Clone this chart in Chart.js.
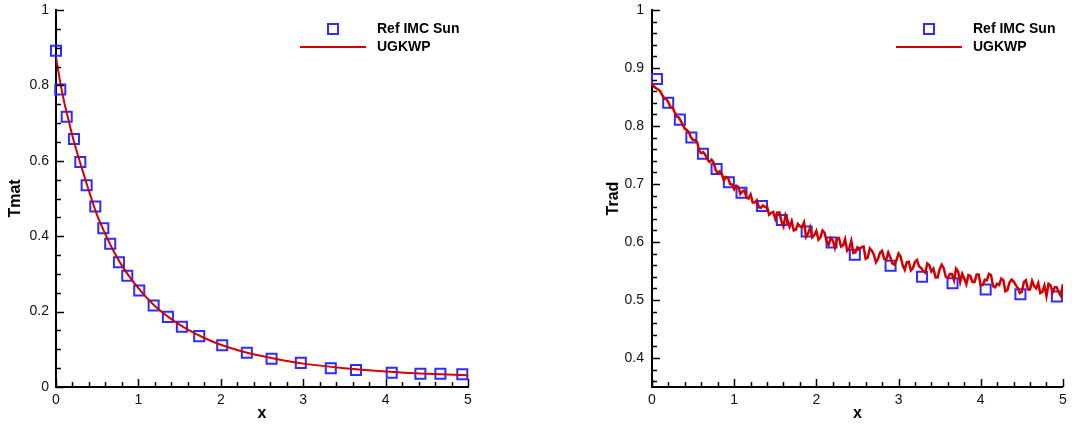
<!DOCTYPE html>
<html>
<head>
<meta charset="utf-8">
<script src="https://cdn.jsdelivr.net/npm/chart.js@4.4.1/dist/chart.umd.min.js"></script>
<style>
body { margin: 0; background: #fff; }
#wrap { position: relative; width: 1072px; height: 428px; }
canvas { position: absolute; top: 0; }
#left { left: 0; }
#right { left: 536px; }
</style>
</head>
<body>
<div id="wrap">
  <canvas id="left" width="536" height="428"></canvas>
  <canvas id="right" width="536" height="428"></canvas>
</div>
<script>
var seriesNames = ["Ref IMC Sun", "UGKWP"];

// left panel: Tmat
var refTmatX = [0, 0.052, 0.13, 0.218, 0.295, 0.372, 0.477, 0.574, 0.658, 0.764, 0.865, 1.01, 1.185, 1.358,
                1.528, 1.738, 2.017, 2.316, 2.616, 2.971, 3.335, 3.641, 4.074, 4.422, 4.665, 4.931];
var refTmatY = [0.892, 0.789, 0.717, 0.658, 0.597, 0.535, 0.479, 0.421, 0.380, 0.331, 0.295, 0.256, 0.216, 0.186,
                0.160, 0.135, 0.111, 0.091, 0.075, 0.064, 0.050, 0.045, 0.038, 0.035, 0.035, 0.034];
var ugkTmatX = [0, 0.05, 0.1, 0.15, 0.2, 0.3, 0.4, 0.5, 0.6, 0.7, 0.8, 0.9, 1.0, 1.1, 1.2, 1.4, 1.6, 1.8,
                2.0, 2.25, 2.5, 2.75, 3.0, 3.5, 4.0, 4.5, 5.0];
var ugkTmatY = [0.875, 0.81, 0.755, 0.71, 0.665, 0.59, 0.52, 0.455, 0.405, 0.36, 0.322, 0.29, 0.262, 0.237, 0.215, 0.18, 0.152, 0.13,
                0.112, 0.095, 0.082, 0.071, 0.062, 0.05, 0.041, 0.035, 0.031];

// right panel: Trad
var refTradX = [0.06, 0.197, 0.339, 0.479, 0.62, 0.786, 0.935, 1.089, 1.338, 1.58, 1.882, 2.185, 2.468, 2.903,
                3.286, 3.657, 4.06, 4.483, 4.927];
var refTradY = [0.881, 0.840, 0.811, 0.780, 0.752, 0.726, 0.703, 0.685, 0.662, 0.638, 0.618, 0.599, 0.578, 0.559,
                0.540, 0.529, 0.518, 0.510, 0.506];
var ugkTradX = [0,0.025,0.05,0.075,0.1,0.125,0.15,0.175,0.2,0.225,0.25,0.275,0.3,0.325,0.35,0.375,0.4,0.425,0.45,0.475,
                0.5,0.525,0.55,0.575,0.6,0.625,0.65,0.675,0.7,0.725,0.75,0.775,0.8,0.825,0.85,0.875,0.9,0.925,0.95,0.975,
                1,1.025,1.05,1.075,1.1,1.125,1.15,1.175,1.2,1.225,1.25,1.275,1.3,1.325,1.35,1.375,1.4,1.425,1.45,1.475,
                1.5,1.525,1.55,1.575,1.6,1.625,1.65,1.675,1.7,1.725,1.75,1.775,1.8,1.825,1.85,1.875,1.9,1.925,1.95,1.975,
                2,2.025,2.05,2.075,2.1,2.125,2.15,2.175,2.2,2.225,2.25,2.275,2.3,2.325,2.35,2.375,2.4,2.425,2.45,2.475,
                2.5,2.525,2.55,2.575,2.6,2.625,2.65,2.675,2.7,2.725,2.75,2.775,2.8,2.825,2.85,2.875,2.9,2.925,2.95,2.975,
                3,3.025,3.05,3.075,3.1,3.125,3.15,3.175,3.2,3.225,3.25,3.275,3.3,3.325,3.35,3.375,3.4,3.425,3.45,3.475,
                3.5,3.525,3.55,3.575,3.6,3.625,3.65,3.675,3.7,3.725,3.75,3.775,3.8,3.825,3.85,3.875,3.9,3.925,3.95,3.975,
                4,4.025,4.05,4.075,4.1,4.125,4.15,4.175,4.2,4.225,4.25,4.275,4.3,4.325,4.35,4.375,4.4,4.425,4.45,4.475,
                4.5,4.525,4.55,4.575,4.6,4.625,4.65,4.675,4.7,4.725,4.75,4.775,4.8,4.825,4.85,4.875,4.9,4.925,4.95,4.975,
                5];
var ugkTradY = [0.874,0.868,0.865,0.863,0.860,0.853,0.847,0.846,0.841,0.832,0.832,0.824,0.816,0.815,0.809,0.802,0.795,0.793,0.789,0.780,
                0.776,0.776,0.772,0.757,0.753,0.755,0.750,0.742,0.738,0.742,0.737,0.724,0.719,0.722,0.717,0.706,0.712,0.711,0.700,0.699,
                0.691,0.697,0.695,0.683,0.687,0.689,0.677,0.675,0.682,0.668,0.668,0.672,0.660,0.659,0.663,0.660,0.661,0.647,0.650,0.652,
                0.640,0.651,0.651,0.636,0.627,0.646,0.637,0.626,0.636,0.620,0.621,0.631,0.627,0.626,0.634,0.609,0.615,0.625,0.608,0.612,
                0.619,0.604,0.608,0.620,0.616,0.601,0.595,0.607,0.603,0.590,0.606,0.607,0.592,0.594,0.605,0.585,0.589,0.602,0.581,0.582,
                0.591,0.588,0.591,0.592,0.571,0.573,0.589,0.585,0.578,0.565,0.571,0.582,0.585,0.571,0.569,0.582,0.574,0.563,0.561,0.569,
                0.580,0.575,0.560,0.552,0.565,0.566,0.551,0.555,0.566,0.569,0.558,0.555,0.550,0.547,0.563,0.560,0.549,0.554,0.539,0.539,
                0.553,0.561,0.555,0.540,0.538,0.545,0.545,0.534,0.554,0.549,0.531,0.545,0.537,0.527,0.543,0.541,0.531,0.531,0.544,0.544,
                0.525,0.526,0.535,0.534,0.545,0.543,0.524,0.522,0.528,0.526,0.537,0.534,0.515,0.517,0.530,0.535,0.532,0.526,0.521,0.512,
                0.514,0.531,0.534,0.518,0.518,0.533,0.524,0.520,0.529,0.512,0.514,0.525,0.507,0.528,0.525,0.513,0.522,0.522,0.513,0.507,
                0.527];

// tick labels
var xTicks = [0, 1, 2, 3, 4, 5];
var tmatTicks = [0, 0.2, 0.4, 0.6, 0.8, 1];
var tradTicks = [0.4, 0.5, 0.6, 0.7, 0.8, 0.9, 1];

var FONT = '"Liberation Sans", Arial, Helvetica, sans-serif';
var BLUE = "rgb(45,45,255)";
var RED = "rgb(212,0,0)";
Chart.defaults.font.family = FONT;
Chart.defaults.color = "#000";

function pts(xs, ys) {
  return xs.map(function (x, i) { return { x: x, y: ys[i] }; });
}

// keep the plot box where we put it (no extra room for edge labels)
function noPad(s) {
  s.paddingTop = 0; s.paddingBottom = 0; s.paddingLeft = 0; s.paddingRight = 0;
}

// tecplot style ticks pointing into the plot
var inwardTicks = {
  id: "inwardTicks",
  afterDatasetsDraw: function (chart, args, opts) {
    var ctx = chart.ctx, ca = chart.chartArea;
    var xs = chart.scales.x, ys = chart.scales.y;
    ctx.save();
    ctx.strokeStyle = "#000";
    ctx.lineWidth = 1.5;
    function isMajor(v, list) {
      return list.some(function (m) { return Math.abs(m - v) < 1e-6; });
    }
    var i, v, p, len;
    for (i = Math.ceil(xs.min / opts.xMinor - 1e-6); i * opts.xMinor <= xs.max + 1e-6; i++) {
      v = i * opts.xMinor;
      p = Math.round(xs.getPixelForValue(v)) + 0.5;
      len = isMajor(v, opts.xMajor) ? 8 : 5;
      ctx.beginPath(); ctx.moveTo(p, ca.bottom); ctx.lineTo(p, ca.bottom - len); ctx.stroke();
    }
    for (i = Math.ceil(ys.min / opts.yMinor - 1e-6); i * opts.yMinor <= ys.max + 1e-6; i++) {
      v = i * opts.yMinor;
      p = Math.round(ys.getPixelForValue(v)) + 0.5;
      len = isMajor(v, opts.yMajor) ? 8 : 5;
      ctx.beginPath(); ctx.moveTo(ca.left, p); ctx.lineTo(ca.left + len, p); ctx.stroke();
    }
    ctx.restore();
  }
};

var legendBox = {
  id: "legendBox",
  afterDraw: function (chart) {
    var ctx = chart.ctx, ca = chart.chartArea;
    var sq = chart.data.datasets[0], ln = chart.data.datasets[1];
    var y1 = ca.top + 19, y2 = ca.top + 37;
    ctx.save();
    ctx.lineWidth = 2;
    ctx.strokeStyle = sq.borderColor;
    ctx.strokeRect(ca.left + 277 - 5, y1 - 5, 10, 10);
    ctx.strokeStyle = ln.borderColor;
    ctx.beginPath(); ctx.moveTo(ca.left + 244, y2); ctx.lineTo(ca.left + 310, y2); ctx.stroke();
    ctx.fillStyle = "#000";
    ctx.font = "bold 14px " + FONT;
    ctx.textAlign = "left";
    ctx.textBaseline = "middle";
    ctx.fillText(sq.label, ca.left + 321, y1);
    ctx.fillText(ln.label, ca.left + 321, y2);
    ctx.restore();
  }
};

function makeChart(id, o) {
  return new Chart(document.getElementById(id).getContext("2d"), {
    type: "scatter",
    data: {
      datasets: [
        { label: seriesNames[0], data: pts(o.refX, o.refY), order: 2, clip: false,
          pointStyle: "rect", pointRadius: 7.1, pointHoverRadius: 7.1, borderWidth: 2,
          borderColor: BLUE, backgroundColor: "rgba(0,0,0,0)" },
        { label: seriesNames[1], data: pts(o.lineX, o.lineY), order: 1, showLine: true,
          pointRadius: 0, borderWidth: o.lineWidth, borderColor: RED, backgroundColor: RED,
          tension: o.tension, cubicInterpolationMode: o.tension ? "monotone" : "default" }
      ]
    },
    options: {
      responsive: false,
      animation: false,
      devicePixelRatio: 1,
      layout: { padding: { left: o.padLeft, right: o.padRight, top: 10, bottom: 0 } },
      plugins: {
        legend: { display: false },
        tooltip: { enabled: false },
        inwardTicks: { xMinor: 0.2, yMinor: o.yMinor, xMajor: xTicks, yMajor: o.yTicks }
      },
      scales: {
        x: {
          type: "linear", min: 0, max: 5,
          afterBuildTicks: function (s) { s.ticks = xTicks.map(function (v) { return { value: v }; }); },
          afterFit: function (s) { s.height = 41; noPad(s); },
          grid: { display: false, drawTicks: false },
          border: { display: true, color: "#000", width: 2 },
          ticks: { padding: 5, font: { size: 14 }, color: "#111", maxRotation: 0, autoSkip: false,
                   callback: function (v) { return String(v); } },
          title: { display: true, text: "x", color: "#000", font: { size: 16, weight: "bold" },
                   padding: { top: 0, bottom: 5 } }
        },
        y: {
          type: "linear", min: o.yMin, max: 1,
          afterBuildTicks: function (s) { s.ticks = o.yTicks.map(function (v) { return { value: v }; }); },
          afterFit: function (s) { s.width = o.yWidth; noPad(s); },
          grid: { display: false, drawTicks: false },
          border: { display: true, color: "#000", width: 2 },
          ticks: { padding: o.labelPad, font: { size: 14 }, color: "#111", autoSkip: false,
                   callback: function (v) { return String(v); } },
          title: { display: true, text: o.yTitle, color: "#000", font: { size: 16, weight: "bold" },
                   padding: { top: 6, bottom: 0 } }
        }
      }
    },
    plugins: [inwardTicks, legendBox]
  });
}

makeChart("left", {
  refX: refTmatX, refY: refTmatY, lineX: ugkTmatX, lineY: ugkTmatY, tension: 0.4, lineWidth: 2,
  yMin: 0, yTicks: tmatTicks, yMinor: 0.05, yTitle: "Tmat",
  padLeft: 0, yWidth: 56, padRight: 68, labelPad: 7
});

makeChart("right", {
  refX: refTradX, refY: refTradY, lineX: ugkTradX, lineY: ugkTradY, tension: 0, lineWidth: 2.5,
  yMin: 0.35, yTicks: tradTicks, yMinor: 0.02, yTitle: "Trad",
  padLeft: 62, yWidth: 54, padRight: 6, labelPad: 8
});
</script>
</body>
</html>
